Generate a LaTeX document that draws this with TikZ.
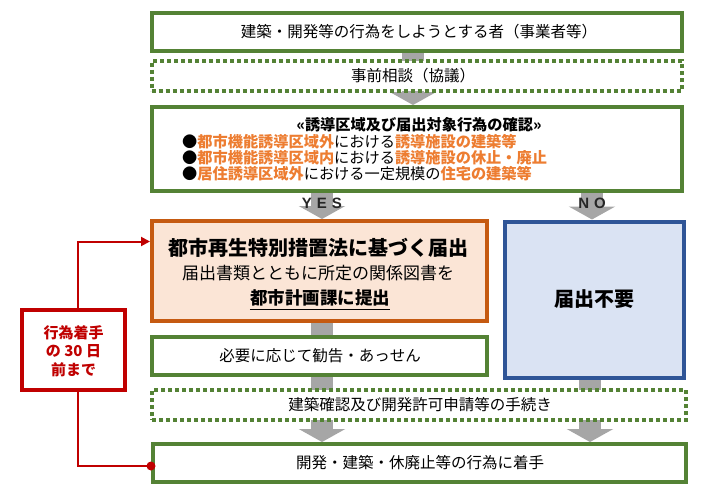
\documentclass[tikz,border=0pt]{standalone}
\usepackage{fontspec}
\newfontfamily\jp{Noto Sans CJK JP}
\newfontfamily\lat{Liberation Sans}
\usetikzlibrary{arrows.meta}
\definecolor{grn}{HTML}{548235}
\definecolor{org}{HTML}{C55A11}
\definecolor{orgfill}{HTML}{FBE5D6}
\definecolor{blu}{HTML}{2F5597}
\definecolor{blufill}{HTML}{DAE3F3}
\definecolor{rd}{HTML}{C00000}
\definecolor{gry}{HTML}{A6A6A6}
\definecolor{otx}{HTML}{ED7D31}
\pgfdeclarelayer{bg}
\pgfsetlayers{bg,main}
\tikzset{
  gbox/.style={draw=grn, line width=4pt, fill=white, inner sep=0pt},
  dbox/.style={draw=grn, line width=4pt, dash pattern=on 4pt off 3pt, fill=white, inner sep=0pt},
  obox/.style={draw=org, line width=4pt, fill=orgfill, inner sep=0pt},
  bbox/.style={draw=blu, line width=4pt, fill=blufill, inner sep=0pt},
  rbox/.style={draw=rd, line width=4pt, fill=white, inner sep=0pt},
  txt/.style={font=\jp\fontsize{15.5}{18}\selectfont, inner sep=0pt},
  btxt/.style={font=\jp\fontsize{15.2}{17}\selectfont, inner sep=0pt},
  ttl/.style={font=\jp\bfseries\fontsize{15.2}{17}\selectfont, inner sep=0pt},
  bigtxt/.style={font=\jp\bfseries\fontsize{20}{24}\selectfont, inner sep=0pt},
  midtxt/.style={font=\jp\fontsize{17}{20}\selectfont, inner sep=0pt},
  undtxt/.style={font=\jp\bfseries\fontsize{17.5}{20}\selectfont, inner sep=0pt},
  rtxt/.style={font=\jp\bfseries\fontsize{15}{18.5}\selectfont, text=rd, align=center, inner sep=0pt},
  yn/.style={font=\lat\bfseries\fontsize{15}{17}\selectfont, text=black!85, inner sep=0pt},
  garrow/.style={draw=gry, line width=22pt, -{Triangle[width=46pt,length=13pt]}},
  rline/.style={draw=rd, line width=2pt},
}
\newcommand{\ot}[1]{{\bfseries\color{otx}#1}}
\begin{document}
\begin{tikzpicture}[x=1pt,y=-1pt]
\useasboundingbox (0,0) rectangle (711,498);
% column coordinates
\coordinate (ax) at (413,0);
\coordinate (lx) at (322,0);
\coordinate (nx) at (592,0);
\coordinate (rx) at (590,0);
\coordinate (ry) at (0,241.5);
\coordinate (ry2) at (0,466);
\coordinate (redx) at (78,0);
% boxes
\path
  (416.75,32)   node[gbox, minimum width=530.5pt, minimum height=38pt]  (b1) {}
  (416.75,75.75) node[dbox, minimum width=530.5pt, minimum height=29.5pt] (b2) {}
  (417,148.75)  node[gbox, minimum width=530pt, minimum height=83.5pt] (b3) {}
  (319.5,271)   node[obox, minimum width=335pt, minimum height=100pt] (ob) {}
  (594.5,299.5) node[bbox, minimum width=179pt, minimum height=156pt] (nb) {}
  (319.5,356)   node[gbox, minimum width=335pt, minimum height=38pt] (kb) {}
  (419,405)     node[dbox, minimum width=534pt, minimum height=30pt] (b4) {}
  (419.5,462.75) node[gbox, minimum width=533pt, minimum height=37.5pt] (fb) {}
  (73.5,350)    node[rbox, minimum width=103pt, minimum height=80.5pt] (rb) {};
% gray block arrows (behind the boxes)
\begin{pgfonlayer}{bg}
  \draw[garrow] (b1.south -| ax) -- (b3.north -| ax);
  \draw[garrow] (b3.south -| lx) -- (ob.north -| lx);
  \draw[garrow] (b3.south -| nx) -- (nb.north -| nx);
  \draw[garrow] (ob.south -| lx) -- (fb.north -| lx);
  \draw[garrow] (nb.south -| rx) -- (fb.north -| rx);
\end{pgfonlayer}
% texts
\node[txt] (t1) at (419,32) {建築・開発等の行為をしようとする者（事業者等）};
\node[txt] (t2) at (413,76) {事前相談（協議）};
\node[ttl] (t3) at (419,125) {«誘導区域及び届出対象行為の確認»};
\node[btxt, anchor=west] (t4) at (182,142) {●\ot{都市機能誘導区域外}における\ot{誘導施設の建築等}};
\node[btxt, anchor=west] (t5) at (182,158) {●\ot{都市機能誘導区域内}における\ot{誘導施設の休止・廃止}};
\node[btxt, anchor=west] (t6) at (182,174) {●\ot{居住誘導区域外}における一定規模の\ot{住宅の建築等}};
\node[yn] (yes) at (322,203) {Y\hspace{5pt}E\hspace{5pt}S};
\node[yn] (no) at (592,203) {N\hspace{5pt}O};
\node[bigtxt] (o1) at (318,248) {都市再生特別措置法に基づく届出};
\node[midtxt] (o2) at (318,273) {届出書類とともに所定の関係図書を};
\node[undtxt] (o3) at (320,298) {都市計画課に提出};
\draw[line width=1pt] ([yshift=-2.5pt]o3.south west) -- ([yshift=-2.5pt]o3.south east);
\node[bigtxt] (n1) at (594,299) {届出不要};
\node[txt] (k1) at (320,356) {必要に応じて勧告・あっせん};
\node[txt] (t7) at (420,405) {建築確認及び開発許可申請等の手続き};
\node[txt] (t8) at (420,463) {開発・建築・休廃止等の行為に着手};
\node[rtxt] (r1) at (73.5,351) {行為着手\\の 30 日\\前まで};
% red connectors
\draw[rline, -{Triangle[length=9pt,width=9pt]}] (rb.north -| redx) |- (ob.west |- ry);
\draw[rline] (rb.south -| redx) |- (fb.west |- ry2);
\fill[rd] (fb.west |- ry2) circle (4.5pt);
\end{tikzpicture}
\end{document}
